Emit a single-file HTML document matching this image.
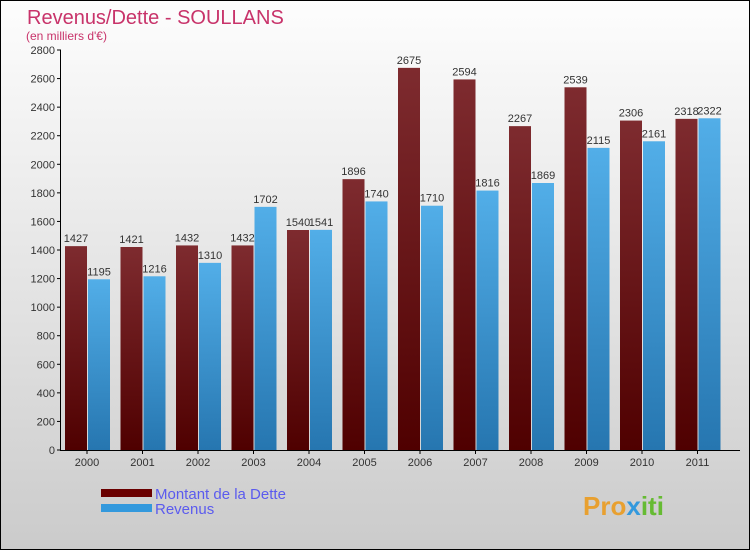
<!DOCTYPE html>
<html><head><meta charset="utf-8"><style>
body{margin:0;width:750px;height:550px;overflow:hidden;font-family:"Liberation Sans",sans-serif}
#wrap{position:absolute;left:0;top:0;width:748px;height:548px;border:1px solid #000;background:linear-gradient(#fdfdfd,#e0e0e0 60%,#cbcbcb)}
</style></head><body>
<div id="wrap"></div>
<svg id="chart" width="750" height="550" style="position:absolute;left:0;top:0">
<defs>
<linearGradient id="gd" x1="0" y1="0" x2="0" y2="1"><stop offset="0" stop-color="#7e2b2f"/><stop offset="1" stop-color="#4f0000"/></linearGradient>
<linearGradient id="gr" x1="0" y1="0" x2="0" y2="1"><stop offset="0" stop-color="#52aee8"/><stop offset="1" stop-color="#2676b0"/></linearGradient>
</defs>
<text x="27" y="24" font-size="20" fill="#c8336a">Revenus/Dette - SOULLANS</text>
<text x="26" y="40" font-size="12" fill="#c8336a">(en milliers d'€)</text>
<g id="plot"></g>
<rect x="101" y="489" width="51" height="8" fill="#6a0000"/>
<rect x="101" y="504" width="51" height="8" fill="#3399dd"/>
<text x="155" y="499" font-size="15" fill="#5b5bee">Montant de la Dette</text>
<text x="155" y="514" font-size="15" fill="#5b5bee">Revenus</text>
<text x="583" y="515" font-size="26" font-weight="bold" fill="#e8a030">Pro<tspan fill="#3399dd">x</tspan><tspan fill="#66bb33">iti</tspan></text>
</svg>
<script>
const categories=["2000","2001","2002","2003","2004","2005","2006","2007","2008","2009","2010","2011"];
const dette=[1427,1421,1432,1432,1540,1896,2675,2594,2267,2539,2306,2318];
const revenus=[1195,1216,1310,1702,1541,1740,1710,1816,1869,2115,2161,2322];
const ticks=[0,200,400,600,800,1000,1200,1400,1600,1800,2000,2200,2400,2600,2800];
const NS="http://www.w3.org/2000/svg";
const g=document.getElementById('plot');
const x0=60,slot=55.5,y0=450,yTop=50,yMax=2800;
const y=v=>y0-(v/yMax)*(y0-yTop);
const cx=i=>x0+slot*i+27;
function mk(t,a){const e=document.createElementNS(NS,t);for(const k in a)e.setAttribute(k,a[k]);g.appendChild(e);return e;}
categories.forEach((c,i)=>{
  const r1=mk('rect',{x:cx(i)-22,y:y(dette[i]),width:22,height:y0-y(dette[i]),fill:'url(#gd)'});
  
  
  const r2=mk('rect',{x:cx(i)+1,y:y(revenus[i]),width:22,height:y0-y(revenus[i]),fill:'url(#gr)'});
  
  
  const t1=mk('text',{x:cx(i)-11,y:y(dette[i])-4,'font-size':11,fill:'#333','text-anchor':'middle'});t1.textContent=dette[i];
  
  
  const t2=mk('text',{x:cx(i)+12,y:y(revenus[i])-4,'font-size':11,fill:'#333','text-anchor':'middle'});t2.textContent=revenus[i];
  
  
  const tl=mk('text',{x:cx(i),y:466,'font-size':11,fill:'#333','text-anchor':'middle'});tl.textContent=c;
  
  
  mk('line',{x1:cx(i),x2:cx(i),y1:450,y2:454,stroke:'#000'});
});
ticks.forEach(v=>{
  mk('line',{x1:57,x2:61,y1:y(v),y2:y(v),stroke:'#000'});
  const t=mk('text',{x:55,y:y(v)+4,'font-size':11,fill:'#333','text-anchor':'end'});t.textContent=v;
  
  
});
const ya=mk('line',{x1:60.5,x2:60.5,y1:50,y2:451,stroke:'#000'});


const xa=mk('line',{x1:60,x2:740,y1:450.5,y2:450.5,stroke:'#000'});


</script>
</body></html>
